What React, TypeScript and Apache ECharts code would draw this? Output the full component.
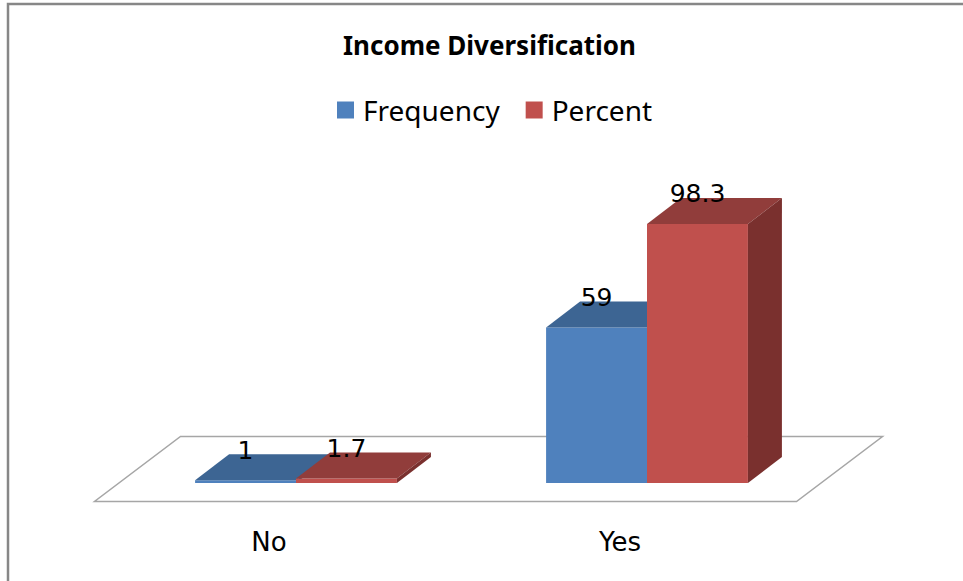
import React, { useEffect, useRef } from "react";
import * as echarts from "echarts";

const title = "Income Diversification";
const categories = ["No", "Yes"];
const seriesNames = ["Frequency", "Percent"];
const frequency = [1, 59];
const percent = [1.7, 98.3];

const frontColors = ["#4F81BD", "#C0504D"];
const topColors = ["#3D6593", "#913D3B"];
const sideColors = ["#31507A", "#7A302E"];

const GRID_LEFT = 120.5;
const GRID_WIDTH = 702;
const GRID_TOP = 219.5;
const GRID_HEIGHT = 263.5;
const DX = 34;
const DY = -26;

function makeRenderItem(si: number) {
  return (params: any, api: any) => {
    const cat = api.value(0);
    const v = api.value(1);
    const [cx, y] = api.coord([cat, v]);
    const y0 = api.coord([cat, 0])[1];
    const band = api.size([1, 0])[0];
    const w = band * 0.2875;
    const x0 = si === 0 ? cx - w : cx;
    return {
      type: "group",
      children: [
        {
          type: "rect",
          shape: { x: x0, y, width: w, height: y0 - y },
          style: { fill: frontColors[si] },
        },
        {
          type: "polygon",
          shape: {
            points: [
              [x0, y],
              [x0 + w, y],
              [x0 + w + DX, y + DY],
              [x0 + DX, y + DY],
            ],
          },
          style: { fill: topColors[si] },
        },
        {
          type: "polygon",
          shape: {
            points: [
              [x0 + w, y],
              [x0 + w + DX, y + DY],
              [x0 + w + DX, y0 + DY],
              [x0 + w, y0],
            ],
          },
          style: { fill: sideColors[si] },
        },
        {
          type: "text",
          x: x0 + w / 2,
          y: y - 30,
          style: {
            text: String(v),
            fill: "#000",
            font: '25px "DejaVu Sans"',
            align: "center",
            verticalAlign: "middle",
          },
          z2: 10,
        },
      ],
    };
  };
}

export default function App() {
  const ref = useRef<HTMLDivElement>(null);
  useEffect(() => {
    if (!ref.current) return;
    const chart = echarts.init(ref.current, null, { renderer: "svg" });
    const gl = GRID_LEFT;
    const gr = GRID_LEFT + GRID_WIDTH;
    const fb = GRID_TOP + GRID_HEIGHT;
    chart.setOption({
      animation: false,
      backgroundColor: "#fff",
      title: {
        text: title,
        left: 338,
        top: 27,
        textStyle: {
          fontFamily: "Noto Sans",
          fontWeight: "bold",
          fontSize: 26,
          color: "#000",
        },
      },
      legend: {
        data: seriesNames,
        left: 337,
        top: 96,
        padding: 0,
        icon: "rect",
        itemWidth: 17,
        itemHeight: 17,
        itemGap: 26,
        textStyle: {
          fontFamily: "Noto Sans",
          fontSize: 28,
          color: "#000",
          padding: [0, 0, 0, 4],
        },
      },
      graphic: [
        {
          type: "rect",
          shape: { x: 8, y: 4, width: 1200, height: 1200 },
          style: { fill: "none", stroke: "#878787", lineWidth: 2.5 },
          silent: true,
        },
        {
          type: "polygon",
          shape: {
            points: [
              [gl - 26, fb + 18.5],
              [gr - 26, fb + 18.5],
              [gr + 60, fb - 46.5],
              [gl + 60, fb - 46.5],
            ],
          },
          style: { fill: "#fff", stroke: "#A6A6A6", lineWidth: 1.5 },
          silent: true,
          z: -1,
        },
      ],
      grid: {
        left: GRID_LEFT,
        top: GRID_TOP,
        width: GRID_WIDTH,
        height: GRID_HEIGHT,
      },
      xAxis: {
        type: "category",
        data: categories,
        axisLine: { show: false },
        axisTick: { show: false },
        axisLabel: {
          fontFamily: "DejaVu Sans",
          fontSize: 26,
          color: "#000",
          margin: 46,
          padding: [0, 54, 0, 0],
        },
      },
      yAxis: {
        type: "value",
        min: 0,
        max: 100,
        show: false,
        splitLine: { show: false },
      },
      series: [
        {
          name: seriesNames[0],
          type: "custom",
          itemStyle: { color: frontColors[0] },
          renderItem: makeRenderItem(0),
          data: categories.map((_, i) => [i, frequency[i]]),
        },
        {
          name: seriesNames[1],
          type: "custom",
          itemStyle: { color: frontColors[1] },
          renderItem: makeRenderItem(1),
          data: categories.map((_, i) => [i, percent[i]]),
        },
      ],
    });
    return () => chart.dispose();
  }, []);
  return (
    <div
      ref={ref}
      style={{ position: "absolute", left: 0, top: 0, width: 963, height: 581 }}
    />
  );
}
